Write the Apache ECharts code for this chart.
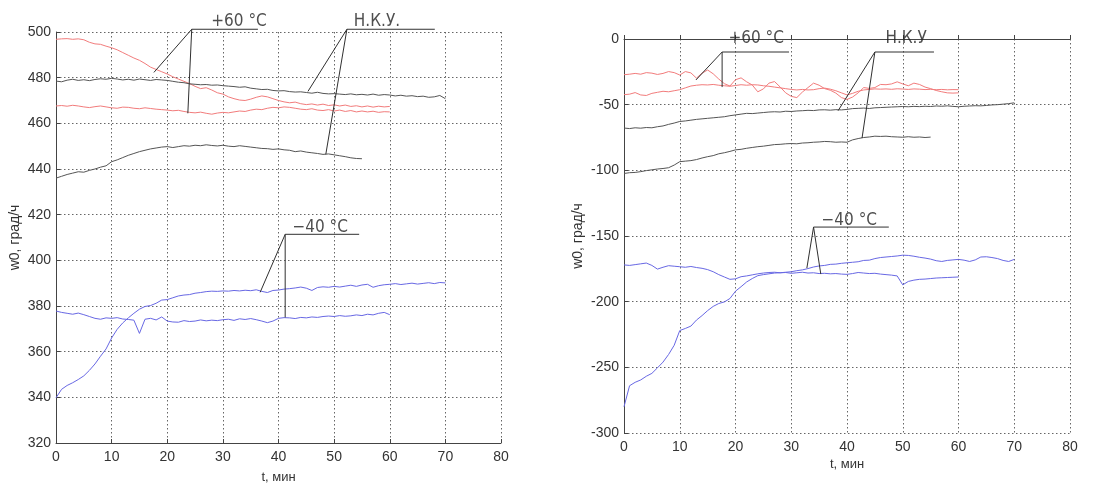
<!DOCTYPE html>
<html><head><meta charset="utf-8">
<script src="https://cdn.jsdelivr.net/npm/echarts@6/dist/echarts.min.js"></script>
<style>html,body{margin:0;padding:0;background:#fff}#c{width:1094px;height:486px}</style>
</head><body><div id="c"></div>
<script>
// ---------- Data (1-minute sampling, t = index in minutes) ----------
// Left panel
const L_red1 = [496.8,497.0,497.1,496.8,497.0,496.6,495.5,494.8,494.6,493.8,493.1,492.2,491.0,489.8,488.6,487.6,486.2,484.6,483.6,482.6,481.6,480.4,479.4,478.4,477.4,476.2,475.2,475.6,474.6,473.4,472.8,471.6,470.8,470.2,470.0,470.6,471.4,472.0,471.6,470.8,470.0,469.4,469.0,469.3,468.6,468.2,468.5,468.0,468.4,467.8,468.1,467.6,468.0,467.4,467.7,467.2,467.6,467.1,467.5,467.2,467.4];
const L_red2 = [467.6,467.8,467.5,467.9,467.6,467.2,466.9,467.3,467.6,467.2,466.8,466.6,467.1,467.0,466.6,466.4,466.8,466.5,466.2,466.0,465.8,465.5,465.7,465.2,464.8,464.6,464.9,464.4,464.0,464.5,464.8,464.6,465.0,465.4,465.2,465.8,466.2,466.0,466.6,467.0,466.8,467.2,467.0,466.6,466.2,466.0,466.4,465.8,465.6,466.0,465.4,465.8,465.2,465.6,465.0,465.4,465.0,465.3,464.8,465.1,465.0];
const L_gray1 = [478.5,478.2,478.9,479.3,478.8,479.1,478.7,479.2,479.5,479.3,479.7,479.4,479.0,479.3,478.9,479.4,479.1,478.8,479.2,479.0,478.8,478.4,478.0,477.8,477.3,477.1,476.9,477.0,476.7,476.8,476.5,476.3,476.1,475.8,476.0,475.4,475.1,474.8,474.9,474.4,474.2,474.3,473.9,473.7,473.8,473.5,473.2,473.6,473.1,472.9,473.0,472.8,472.6,472.9,472.5,472.7,472.4,472.8,472.3,472.6,472.4,472.0,472.3,471.9,472.1,471.7,471.9,471.4,471.6,472.2,470.8];
const L_gray2 = [436.0,436.8,437.6,438.2,438.8,438.6,439.4,440.0,440.8,441.4,443.2,444.0,445.0,446.0,446.8,447.6,448.2,448.8,449.2,449.6,449.8,449.4,449.8,450.2,450.0,450.4,450.2,450.6,450.3,450.1,450.4,450.0,449.8,450.2,449.9,449.6,449.3,449.0,448.9,448.6,448.8,448.4,448.2,447.6,447.9,447.4,447.1,446.8,446.4,446.6,446.2,445.8,445.4,444.9,444.6,444.5];
const L_blue1 = [339.8,343.5,345.2,346.4,347.8,349.4,351.8,354.6,358.0,361.2,366.0,369.8,372.6,374.8,376.8,378.6,379.8,380.2,381.2,382.6,382.8,383.6,384.4,384.8,385.0,385.6,385.9,386.3,386.5,386.4,386.6,386.5,386.8,386.6,386.9,386.7,387.1,386.4,385.9,386.8,387.0,387.4,387.6,387.9,388.3,387.8,386.8,388.1,388.4,388.2,388.6,388.3,388.7,389.1,388.6,389.2,389.5,388.2,388.9,389.3,389.5,389.8,389.4,389.7,390.0,389.6,389.9,390.2,389.8,390.3,390.1];
const L_blue2 = [377.8,377.2,376.8,376.4,376.9,376.2,375.4,374.6,374.2,374.8,374.6,374.9,374.3,374.1,373.8,368.0,374.2,374.6,373.9,375.2,373.4,373.0,372.9,373.6,373.2,373.4,373.9,373.5,373.8,373.6,374.0,374.2,373.7,374.4,374.1,374.5,374.0,373.4,372.7,373.4,374.6,374.9,374.8,374.5,375.0,374.8,375.2,375.0,375.4,375.6,375.4,375.8,375.5,375.7,376.1,375.8,376.4,376.1,376.8,377.2,376.2];
// Right panel
const R_red1 = [-27.2,-26.8,-26.2,-26.8,-25.6,-26.0,-27.0,-26.2,-24.8,-25.6,-27.4,-24.8,-25.8,-29.8,-26.0,-23.6,-26.5,-30.5,-34.0,-35.8,-31.0,-29.6,-32.6,-35.0,-40.2,-38.0,-33.6,-32.4,-36.5,-41.0,-43.7,-44.6,-40.4,-37.0,-33.6,-35.2,-37.8,-39.0,-41.2,-44.6,-46.0,-44.2,-41.0,-37.0,-37.6,-37.0,-34.6,-34.8,-34.2,-32.6,-34.2,-35.6,-33.6,-34.6,-36.6,-37.8,-39.2,-40.2,-41.0,-41.2,-41.0];
const R_red2 = [-42.4,-42.0,-40.8,-42.6,-43.0,-41.4,-40.6,-39.8,-40.2,-39.4,-38.6,-37.2,-35.8,-35.2,-34.8,-35.0,-34.6,-35.2,-35.6,-36.0,-35.4,-34.8,-35.2,-34.8,-35.0,-35.6,-36.0,-36.6,-37.2,-37.8,-38.4,-38.8,-38.4,-38.8,-38.6,-37.8,-37.4,-38.2,-39.4,-41.0,-42.6,-41.4,-39.8,-38.8,-38.4,-38.0,-38.2,-38.0,-38.3,-37.9,-38.1,-38.4,-38.0,-38.2,-38.5,-38.3,-38.6,-38.4,-38.7,-38.5,-38.6];
const R_gray1 = [-67.8,-68.2,-67.6,-67.9,-67.4,-67.6,-66.8,-66.2,-65.0,-64.0,-62.8,-62.4,-61.8,-61.2,-60.8,-60.4,-60.0,-59.6,-59.2,-58.4,-57.8,-57.2,-56.6,-56.8,-56.4,-56.0,-55.6,-55.4,-55.6,-55.0,-55.2,-54.8,-54.6,-54.3,-54.5,-54.0,-53.9,-54.2,-53.8,-54.0,-53.6,-53.0,-52.8,-52.6,-52.9,-52.4,-52.2,-52.0,-51.8,-51.6,-51.4,-51.6,-51.3,-51.5,-51.2,-51.4,-51.0,-51.2,-50.9,-51.3,-51.6,-51.2,-51.0,-50.8,-50.9,-50.6,-50.2,-50.0,-49.6,-49.2,-48.6];
const R_gray2 = [-102.4,-101.8,-101.6,-101.0,-100.2,-99.6,-99.0,-98.6,-98.0,-96.0,-93.4,-93.0,-92.6,-91.8,-90.6,-89.6,-88.8,-87.4,-86.6,-85.6,-84.4,-84.0,-83.2,-82.6,-82.0,-81.6,-81.0,-80.4,-80.2,-79.8,-79.6,-79.8,-79.2,-79.0,-78.6,-78.4,-78.0,-78.2,-78.6,-78.4,-78.6,-76.8,-75.8,-75.0,-74.6,-74.0,-74.2,-74.0,-74.4,-74.6,-74.8,-74.4,-74.8,-74.6,-75.0,-74.7];
const R_blue1 = [-280.0,-264.0,-261.4,-259.6,-256.8,-254.6,-250.4,-246.0,-240.2,-233.2,-222.0,-220.4,-218.6,-214.0,-210.6,-206.8,-203.6,-201.4,-200.2,-197.6,-192.0,-188.6,-185.0,-182.4,-180.2,-179.4,-178.8,-178.2,-178.0,-177.6,-177.2,-176.4,-175.8,-174.8,-173.6,-172.8,-172.4,-171.6,-171.4,-170.8,-170.4,-170.0,-169.6,-168.6,-168.4,-167.2,-166.4,-166.0,-165.6,-165.2,-164.6,-164.8,-165.4,-166.2,-166.8,-167.6,-168.8,-169.4,-168.6,-168.2,-167.8,-168.4,-169.4,-168.2,-166.0,-165.8,-166.4,-167.2,-168.6,-169.4,-167.8];
const R_blue2 = [-172.0,-172.4,-171.8,-171.2,-170.6,-172.4,-175.2,-173.8,-172.6,-173.0,-173.4,-173.8,-173.2,-174.0,-174.6,-175.6,-177.2,-179.4,-181.2,-183.0,-182.6,-181.0,-180.4,-179.6,-178.8,-178.2,-177.8,-177.6,-178.0,-177.8,-178.4,-178.0,-177.6,-178.2,-178.0,-178.6,-178.4,-178.8,-178.6,-179.0,-179.2,-178.6,-177.8,-178.2,-178.6,-178.4,-179.0,-179.4,-179.8,-180.4,-187.2,-184.6,-183.6,-183.0,-182.8,-182.4,-182.0,-181.8,-181.6,-181.4,-181.2];

// Annotation leader lines (data coordinates): [tip1, corner, tip2] and shelf [corner, end]
const L_p60_lead = [[17.6,482.3],[24.4,501.2],[23.7,464.4]];
const L_p60_shelf = [[24.4,501.2],[36.3,501.2]];
const L_nku_lead = [[45.3,474.0],[52.3,501.2],[48.5,446.4]];
const L_nku_shelf = [[52.3,501.2],[68.1,501.2]];
const L_m40_lead = [[36.7,386.0],[41.2,411.4],[41.2,375.0]];
const L_m40_shelf = [[41.2,411.4],[54.5,411.4]];
const R_p60_lead = [[12.9,-31.2],[17.6,-9.9],[17.6,-36.6]];
const R_p60_shelf = [[17.6,-9.9],[29.6,-9.9]];
const R_nku_lead = [[38.4,-54.6],[45.0,-9.9],[42.7,-75.4]];
const R_nku_shelf = [[45.0,-9.9],[55.6,-9.9]];
const R_m40_lead = [[32.8,-174.4],[34.0,-143.2],[35.3,-179.0]];
const R_m40_shelf = [[34.0,-143.2],[47.5,-143.2]];

// Annotation texts and anchors (data coordinates)
const L_labels = [["+60 °C",[32.9,504.4]],["Н.К.У.",[57.7,504.4]],["−40 °C",[47.5,414.4]]];
const R_labels = [["+60 °C",[23.7,0.5]],["Н.К.У",[50.6,0.5]],["−40 °C",[40.4,-138.2]]];

const xTicks = {min:0, max:80, interval:10};
const yLeft = {min:320, max:500, interval:20};
const yRight = {min:-300, max:0, interval:50};

// ---------- Styles ----------
const RED = '#f27c7c', GRAY = '#555555', BLUE = '#6868e4', ANN = '#303030';
const toPairs = arr => arr.map((v,i)=>[i,v]);
const FONT = '"Liberation Sans",Arial,sans-serif';

function dataLine(arr, color, gi){
  return {type:'line', xAxisIndex:gi, yAxisIndex:gi, data:toPairs(arr), showSymbol:false, symbol:'none',
    lineStyle:{color:color, width:1}, animation:false, silent:true, z:3};
}
function leader(coords, gi){
  return {type:'lines', coordinateSystem:'cartesian2d', xAxisIndex:gi, yAxisIndex:gi, polyline:true, clip:false,
    data:[{coords:coords}], lineStyle:{color:ANN, width:1, opacity:1, curveness:0}, animation:false, silent:true, z:5};
}
function labels(list, gi){
  return {type:'scatter', xAxisIndex:gi, yAxisIndex:gi, clip:false, symbol:'circle', symbolSize:2,
    itemStyle:{color:'rgba(0,0,0,0)'},
    data:list.map(l=>({value:l[1], name:l[0]})),
    label:{show:true, position:'inside', formatter:p=>p.name, color:'#222', fontSize:17,
      fontFamily:'"Liberation Sans Narrow","DejaVu Sans Condensed",sans-serif'},
    labelLayout:{hideOverlap:false},
    animation:false, silent:true, z:6};
}
const splitLine = {show:true, lineStyle:{color:'#666', type:[1.5,2.5], width:1}};
const axisLabel = {color:'#333', fontSize:14, fontFamily:FONT};
const axisLine = {show:true, lineStyle:{color:'#444', width:1}};
const axisTick = {show:true, inside:true, length:4, lineStyle:{color:'#444', width:1}};
function xAx(gi, gap, margin){
  return {type:'value', gridIndex:gi, min:xTicks.min, max:xTicks.max, interval:xTicks.interval,
    name:'t, мин', nameLocation:'middle', nameGap:gap, nameMoveOverlap:false,
    nameTextStyle:{color:'#333', fontSize:13, fontFamily:FONT},
    axisLine:axisLine, axisTick:axisTick, axisLabel:Object.assign({margin:margin}, axisLabel), splitLine:splitLine};
}
function yAx(gi, r, gap){
  return {type:'value', gridIndex:gi, min:r.min, max:r.max, interval:r.interval,
    name:'w0, град/ч', nameLocation:'middle', nameGap:gap, nameRotate:90, nameMoveOverlap:false,
    nameTextStyle:{color:'#333', fontSize:14, fontFamily:FONT},
    axisLine:axisLine, axisTick:axisTick, axisLabel:Object.assign({margin:5}, axisLabel), splitLine:splitLine};
}

const chart = echarts.init(document.getElementById('c'), null, {renderer:'canvas'});
chart.setOption({
  backgroundColor:'#ffffff',
  animation:false,
  grid:[
    {left:56, top:32, width:445, height:411, outerBoundsMode:'none', containLabel:false},
    {left:624, top:39, width:446, height:394, outerBoundsMode:'none', containLabel:false}
  ],
  xAxis:[xAx(0,28,7), xAx(1,25,7)],
  yAxis:[yAx(0,yLeft,34), yAx(1,yRight,39)],
  series:[
    dataLine(L_red1,RED,0), dataLine(L_red2,RED,0),
    dataLine(L_gray1,GRAY,0), dataLine(L_gray2,GRAY,0),
    dataLine(L_blue1,BLUE,0), dataLine(L_blue2,BLUE,0),
    dataLine(R_red1,RED,1), dataLine(R_red2,RED,1),
    dataLine(R_gray1,GRAY,1), dataLine(R_gray2,GRAY,1),
    dataLine(R_blue1,BLUE,1), dataLine(R_blue2,BLUE,1),
    leader(L_p60_lead,0), leader(L_p60_shelf,0),
    leader(L_nku_lead,0), leader(L_nku_shelf,0),
    leader(L_m40_lead,0), leader(L_m40_shelf,0),
    leader(R_p60_lead,1), leader(R_p60_shelf,1),
    leader(R_nku_lead,1), leader(R_nku_shelf,1),
    leader(R_m40_lead,1), leader(R_m40_shelf,1),
    labels(L_labels,0), labels(R_labels,1)
  ]
});
</script>
</body></html>
